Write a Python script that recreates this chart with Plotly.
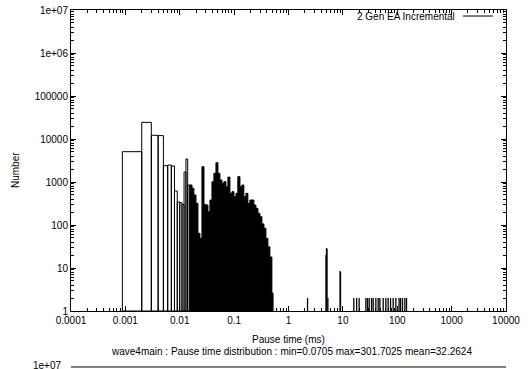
import plotly.graph_objects as go

# ---- data (pause time in ms, counts) ----
# outlined boxes (bin edges / counts)
box_edges = [0.00088, 0.002, 0.003, 0.004, 0.005, 0.006, 0.007, 0.008, 0.009,
             0.010, 0.011, 0.012, 0.013, 0.014, 0.015]
box_counts = [5070, 24400, 12200, 12000, 2390, 2480, 2350, 618, 343, 330, 300,
              1710, 3430, 851]

# dense region (bins so close they render solid black)
dense_edges = [0.015, 0.0168, 0.0182, 0.0199, 0.0216, 0.0235, 0.0256, 0.0279, 0.0303,
               0.033, 0.0359, 0.0391, 0.0425, 0.0463, 0.0504, 0.0548, 0.0597, 0.0649,
               0.0707, 0.0769, 0.0837, 0.0911, 0.0992, 0.108, 0.117, 0.128, 0.139,
               0.151, 0.165, 0.179, 0.195, 0.212, 0.231, 0.252, 0.274, 0.298, 0.324,
               0.353, 0.384, 0.418, 0.455, 0.495, 0.52]
dense_counts = [851, 713, 499, 319, 64, 49, 2270, 300, 292, 204, 381, 1016, 1592, 2811,
                1592, 1113, 933, 1016, 778, 1300, 545, 595, 456, 545, 1330, 778, 851,
                456, 545, 319, 381, 381, 292, 244, 187, 156, 106, 84, 49, 31, 18, 2.6]

# isolated thin bars
spike_x = [2.24, 4.9, 5.0, 5.1, 5.3, 8.9, 9.05, 15.9, 17.9, 19.9,
           26.5, 28.4, 30.5, 33.7, 36.1, 40.4, 44.6, 47.9, 55.1, 61.7,
           68.0, 75.3, 84.2, 94.3, 108, 115, 125, 138, 148]
spike_counts = [2, 20, 29, 28, 2, 8.5, 8, 2, 2, 2,
                2, 2, 2, 2, 2, 2, 2, 2, 2, 2,
                2, 2, 2, 2, 2, 2, 2, 2, 2]

x_tickvals = [1e-4, 1e-3, 1e-2, 1e-1, 1, 10, 100, 1000, 10000]
x_ticktext = ["0.0001", "0.001", "0.01", "0.1", "1", "10", "100", "1000", "10000"]
y_tickvals = [1, 10, 100, 1000, 10000, 100000, 1e6, 1e7]
y_ticktext = ["1", "10", "100", "1000", "10000", "100000", "1e+06", "1e+07"]

series_name = "2 Gen EA Incremental"
x_title = "Pause time (ms)"
y_title = "Number"
subtitle = "wave4main : Pause time distribution : min=0.0705 max=301.7025 mean=32.2624"

FONT = "Liberation Sans, Arial, Helvetica, sans-serif"

# ---- build traces ----
bx, by = [], []
for i, c in enumerate(box_counts):
    l, r = box_edges[i], box_edges[i + 1]
    bx += [l, l, r, r, l, None]
    by += [1, c, c, 1, 1, None]

dx, dy = [dense_edges[0]], [1]
for i, c in enumerate(dense_counts):
    dx += [dense_edges[i], dense_edges[i + 1]]
    dy += [c, c]
dx += [dense_edges[-1], dense_edges[0]]
dy += [1, 1]

sx, sy = [], []
for v, c in zip(spike_x, spike_counts):
    sx += [v, v, None]
    sy += [1, c, None]

fig = go.Figure()
fig.add_trace(go.Scatter(x=dx, y=dy, mode="lines", fill="toself", fillcolor="black",
                         line=dict(color="black", width=1), showlegend=False, hoverinfo="skip"))
fig.add_trace(go.Scatter(x=bx, y=by, mode="lines", fill="toself", fillcolor="white",
                         line=dict(color="black", width=1), showlegend=False, hoverinfo="skip"))
fig.add_trace(go.Scatter(x=sx, y=sy, mode="lines",
                         line=dict(color="black", width=1.3), showlegend=False, hoverinfo="skip"))

def minor_vals(lo, hi):
    vals = []
    for e in range(lo, hi):
        for m in range(2, 10):
            vals.append(m * 10.0 ** e)
    return vals

axis_common = dict(type="log", showgrid=False, zeroline=False, showline=True,
                   linecolor="black", linewidth=1, mirror="allticks", automargin=False,
                   ticks="inside", ticklen=5, tickcolor="black", tickwidth=1,
                   tickfont=dict(family=FONT, size=10, color="black"))

fig.update_xaxes(range=[-4, 4], tickmode="array", tickvals=x_tickvals, ticktext=x_ticktext,
                 minor=dict(ticks="inside", ticklen=3, tickcolor="black", tickmode="array",
                            tickvals=minor_vals(-4, 4)),
                 **axis_common)
fig.update_yaxes(range=[0, 7], tickmode="array", tickvals=y_tickvals, ticktext=y_ticktext,
                 minor=dict(ticks="inside", ticklen=3, tickcolor="black", tickmode="array",
                            tickvals=minor_vals(0, 7)),
                 **axis_common)

ann_font = dict(family=FONT, size=10, color="black")
annotations = [
    dict(text=series_name, x=0.887, y=0.980, xref="paper", yref="paper",
         xanchor="right", yanchor="middle", showarrow=False, font=ann_font),
    dict(text=x_title, x=0.501, y=-0.0963, xref="paper", yref="paper",
         xanchor="center", yanchor="middle", showarrow=False, font=ann_font),
    dict(text=subtitle, x=0.507, y=-0.136, xref="paper", yref="paper",
         xanchor="center", yanchor="middle", showarrow=False, font=ann_font),
    dict(text=y_title, x=-0.129, y=0.468, xref="paper", yref="paper", textangle=-90,
         xanchor="center", yanchor="middle", showarrow=False, font=ann_font),
    dict(text="1e+07", x=-0.016, y=-0.180, xref="paper", yref="paper",
         xanchor="right", yanchor="middle", showarrow=False, font=ann_font),
]
shapes = [
    dict(type="line", xref="paper", yref="paper", x0=0.901, x1=0.970, y0=0.980, y1=0.980,
         line=dict(color="black", width=1)),
    dict(type="line", xref="paper", yref="paper", x0=0, x1=1, y0=-0.186, y1=-0.186,
         line=dict(color="black", width=1)),
]

fig.update_layout(width=529, height=369, margin=dict(l=71, r=23, t=10, b=58, autoexpand=False),
                  paper_bgcolor="white", plot_bgcolor="white",
                  annotations=annotations, shapes=shapes, showlegend=False,
                  font=dict(family=FONT, size=10, color="black"))

# remove the default page margin so the figure sits at the window's top-left corner
fig.write_html("out.html", config={"displayModeBar": False},
               post_script="document.body.style.margin='0';document.body.style.overflow='hidden';")
